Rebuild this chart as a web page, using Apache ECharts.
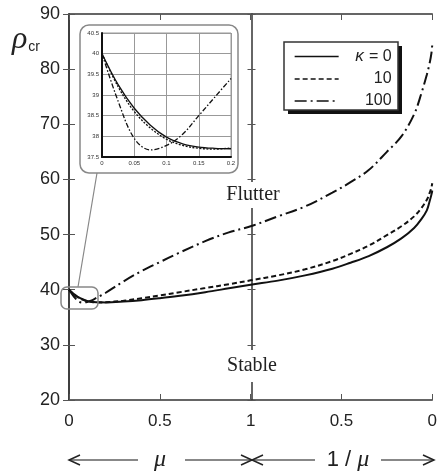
<!DOCTYPE html>
<html>
<head>
<meta charset="utf-8">
<script src="https://cdn.jsdelivr.net/npm/echarts@6/dist/echarts.min.js"></script>
<style>
  body { margin: 0; background: #fff; }
  #main { width: 440px; height: 475px; }
</style>
</head>
<body>
<div id="main"></div>
<script>
// left half: mu from 0 to 1
var mu = [0, 0.025, 0.05, 0.075, 0.1, 0.125, 0.15, 0.175, 0.2, 0.3, 0.4, 0.5, 0.6, 0.75, 0.88, 1.0];
var k0Left = [40.0, 39.25, 38.68, 38.27, 37.98, 37.82, 37.74, 37.71, 37.70, 37.85, 38.1, 38.45, 38.85, 39.55, 40.25, 40.9];
var k10Left = [40.0, 39.2, 38.6, 38.2, 37.93, 37.78, 37.71, 37.69, 37.72, 38.0, 38.45, 38.95, 39.5, 40.3, 41.0, 41.7];
var k100Left = [40.0, 38.85, 37.95, 37.67, 37.78, 38.05, 38.5, 38.95, 39.4, 41.5, 43.4, 45.0, 46.6, 48.8, 50.4, 51.5];

// right half: 1/mu from 1 down to 0
var invMu = [0.85, 0.7, 0.55, 0.45, 0.35, 0.25, 0.17, 0.1, 0.06, 0.03, 0.015, 0.005, 0];
var k0Right = [41.65, 42.6, 43.8, 44.9, 46.1, 47.7, 49.3, 51.2, 52.8, 54.4, 56.0, 57.2, 58.0];
var k10Right = [42.6, 43.7, 45.2, 46.5, 48.0, 49.9, 51.5, 53.3, 54.8, 56.3, 57.5, 58.5, 59.3];
var k100Right = [53.3, 55.1, 57.6, 59.5, 61.7, 65.0, 67.8, 71.8, 75.6, 79.0, 81.0, 82.8, 84.5];

var names = ['κ = 0', '10', '100'];
var xTicks = [0, 0.5, 1, 0.5, 0];

// x runs 0..2 : mu on the left half, 2 - 1/mu on the right half
function build(left, right) {
    var d = [];
    for (var i = 0; i < mu.length; i++) d.push([mu[i], left[i]]);
    for (var j = 0; j < invMu.length; j++) d.push([2 - invMu[j], right[j]]);
    return d;
}
function zoomPart(left) {
    var d = [];
    for (var i = 0; i < mu.length; i++) {
        if (mu[i] <= 0.2) d.push([mu[i], left[i]]);
    }
    return d;
}

var dashes = ['solid', [5, 3], [12, 4, 2, 4]];
var insetDashes = ['solid', [2, 1.5], [5, 2, 1.5, 2]];
var lefts = [k0Left, k10Left, k100Left];
var rights = [k0Right, k10Right, k100Right];

var series = [];
for (var s = 0; s < 3; s++) {
    series.push({
        name: names[s], type: 'line', xAxisIndex: 0, yAxisIndex: 0,
        data: build(lefts[s], rights[s]),
        symbol: 'none', smooth: 0.35,
        itemStyle: { color: '#111' },
        lineStyle: { color: '#111', width: 2, type: dashes[s] },
        z: 5
    });
}
for (var s2 = 0; s2 < 3; s2++) {
    series.push({
        name: names[s2], type: 'line', xAxisIndex: 2, yAxisIndex: 4,
        data: zoomPart(lefts[s2]),
        symbol: 'none', smooth: 0.35,
        itemStyle: { color: '#111' },
        lineStyle: { color: '#111', width: 1.3, type: insetDashes[s2] },
        z: 5
    });
}

var axisCol = '#333';
var numFont = 'Liberation Sans';

var option = {
    animation: false,
    backgroundColor: '#fff',
    grid: [
        { left: 69, top: 14, right: 6, bottom: 75 },
        { left: 102, top: 33, width: 129, height: 124, show: true, borderColor: '#999', borderWidth: 1 }
    ],
    xAxis: [
        {
            type: 'value', gridIndex: 0, min: 0, max: 2, interval: 0.5, position: 'bottom',
            axisLine: { lineStyle: { color: axisCol, width: 1.5 } },
            axisTick: { inside: true, length: 6, lineStyle: { color: '#555' } },
            splitLine: { show: false },
            axisLabel: {
                fontSize: 17, color: '#222', fontFamily: numFont, margin: 13,
                formatter: function (v) { return String(xTicks[Math.round(v * 2)]); }
            }
        },
        {
            type: 'value', gridIndex: 0, min: 0, max: 2, interval: 0.5, position: 'top',
            axisLine: { lineStyle: { color: axisCol, width: 1.5 } },
            axisTick: { inside: true, length: 6, lineStyle: { color: '#555' } },
            splitLine: { show: false }, axisLabel: { show: false }
        },
        {
            type: 'value', gridIndex: 1, min: 0, max: 0.2, interval: 0.05,
            axisLine: { lineStyle: { color: '#111', width: 2 } },
            axisTick: { show: false },
            splitLine: { lineStyle: { color: '#999', width: 1 } },
            axisLabel: { fontSize: 6, color: '#333', fontFamily: numFont, margin: 3 }
        }
    ],
    yAxis: [
        {
            type: 'value', gridIndex: 0, min: 20, max: 90, interval: 10, position: 'left',
            axisLine: { lineStyle: { color: axisCol, width: 1.5 } },
            axisTick: { inside: true, length: 6, lineStyle: { color: '#555' } },
            splitLine: { show: false },
            axisLabel: { fontSize: 18, color: '#222', fontFamily: numFont, margin: 9 }
        },
        {
            type: 'value', gridIndex: 0, min: 20, max: 90, interval: 10, position: 'right',
            axisLine: { lineStyle: { color: axisCol, width: 1.5 } },
            axisTick: { inside: true, length: 6, lineStyle: { color: '#555' } },
            splitLine: { show: false }, axisLabel: { show: false }
        },
        {
            // middle divider at mu = 1, ticks to the right
            type: 'value', gridIndex: 0, min: 20, max: 90, interval: 10, position: 'left', offset: -182.5,
            axisLine: { lineStyle: { color: axisCol, width: 1.5 } },
            axisTick: { inside: true, length: 4, lineStyle: { color: '#555' } },
            splitLine: { show: false }, axisLabel: { show: false }
        },
        {
            // same divider, ticks to the left
            type: 'value', gridIndex: 0, min: 20, max: 90, interval: 10, position: 'left', offset: -182.5,
            axisLine: { show: false },
            axisTick: { inside: false, length: 4, lineStyle: { color: '#555' } },
            splitLine: { show: false }, axisLabel: { show: false }
        },
        {
            type: 'value', gridIndex: 1, min: 37.5, max: 40.5, interval: 0.5,
            axisLine: { show: true, lineStyle: { color: '#111', width: 2 } },
            axisTick: { show: false },
            splitLine: { lineStyle: { color: '#999', width: 1 } },
            axisLabel: { fontSize: 6, color: '#333', fontFamily: numFont, margin: 3 }
        }
    ],
    legend: {
        data: names, orient: 'vertical', left: 294, top: 48,
        itemWidth: 44, itemHeight: 14, itemGap: 6, padding: 0,
        selectedMode: false,
        itemStyle: { opacity: 0 },
        lineStyle: { width: 1.3, color: '#111' },
        textStyle: {
            fontSize: 16, color: '#222', fontFamily: numFont,
            rich: {
                k: { fontSize: 17, fontStyle: 'italic', fontFamily: numFont, color: '#222', width: 20, align: 'right' },
                b: { fontSize: 16, fontFamily: numFont, color: '#222', width: 28, align: 'right' },
                a: { fontSize: 16, fontFamily: numFont, color: '#222', width: 48, align: 'right' }
            }
        },
        formatter: function (n) {
            if (n === names[0]) return '{k|κ}{b|= 0}';
            return '{a|' + n + '}';
        },
        z: 6
    },
    graphic: [
        // legend frame with hard shadow
        { type: 'rect', shape: { x: 288, y: 46, width: 114, height: 68 }, style: { fill: '#111' }, z: 3 },
        { type: 'rect', shape: { x: 284, y: 42, width: 114, height: 68 }, style: { fill: '#fff', stroke: '#333', lineWidth: 1.5 }, z: 3 },
        // inset frame, small zoom box and connecting line
        { type: 'rect', shape: { x: 80, y: 25, width: 158, height: 148, r: 9 }, style: { fill: 'none', stroke: '#888', lineWidth: 1.5 }, z: 3 },
        { type: 'rect', shape: { x: 61, y: 287, width: 37, height: 22, r: 6 }, style: { fill: 'none', stroke: '#888', lineWidth: 1.5 }, z: 6 },
        { type: 'line', shape: { x1: 97, y1: 173, x2: 78, y2: 287 }, style: { stroke: '#888', lineWidth: 1.2 }, z: 3 },
        // axis title
        {
            type: 'text', left: 12, top: 24, z: 6,
            style: {
                text: '{r|ρ}{s|cr}',
                rich: {
                    r: { fontSize: 32, fontStyle: 'italic', fontFamily: 'Liberation Serif', fill: '#222' },
                    s: { fontSize: 14, fontFamily: 'Liberation Sans', fill: '#222', padding: [14, 0, 0, 1] }
                }
            }
        },
        // region labels
        {
            type: 'text', x: 253, y: 195, z: 10,
            style: { text: 'Flutter', fontSize: 20, fontFamily: 'Liberation Serif', fill: '#222', align: 'center', verticalAlign: 'middle', backgroundColor: '#fff', padding: [3, 3] }
        },
        {
            type: 'text', x: 252, y: 366, z: 10,
            style: { text: 'Stable', fontSize: 20, fontFamily: 'Liberation Serif', fill: '#222', align: 'center', verticalAlign: 'middle', backgroundColor: '#fff', padding: [6, 3] }
        },
        // bottom arrows
        { type: 'line', shape: { x1: 69, y1: 460, x2: 138, y2: 460 }, style: { stroke: '#888', lineWidth: 2 } },
        { type: 'polyline', shape: { points: [[80, 455], [69, 460], [80, 465]] }, style: { stroke: '#222', lineWidth: 1.5, fill: 'none' } },
        { type: 'text', x: 160, y: 460, style: { text: 'μ', fontSize: 24, fontStyle: 'italic', fontFamily: 'Liberation Serif', fill: '#222', align: 'center', verticalAlign: 'middle' } },
        { type: 'line', shape: { x1: 185, y1: 460, x2: 252, y2: 460 }, style: { stroke: '#888', lineWidth: 2 } },
        { type: 'polyline', shape: { points: [[241, 455], [252, 460], [241, 465]] }, style: { stroke: '#222', lineWidth: 1.5, fill: 'none' } },
        { type: 'line', shape: { x1: 252, y1: 460, x2: 315, y2: 460 }, style: { stroke: '#888', lineWidth: 2 } },
        { type: 'polyline', shape: { points: [[263, 455], [252, 460], [263, 465]] }, style: { stroke: '#222', lineWidth: 1.5, fill: 'none' } },
        {
            type: 'text', x: 348, y: 460,
            style: {
                text: '{n|1 / }{m|μ}', align: 'center', verticalAlign: 'middle',
                rich: {
                    n: { fontSize: 22, fontFamily: 'Liberation Sans', fill: '#222' },
                    m: { fontSize: 24, fontStyle: 'italic', fontFamily: 'Liberation Serif', fill: '#222' }
                }
            }
        },
        { type: 'line', shape: { x1: 381, y1: 460, x2: 434, y2: 460 }, style: { stroke: '#888', lineWidth: 2 } },
        { type: 'polyline', shape: { points: [[423, 455], [434, 460], [423, 465]] }, style: { stroke: '#222', lineWidth: 1.5, fill: 'none' } }
    ],
    series: series
};

var chart = echarts.init(document.getElementById('main'));
chart.setOption(option);
</script>
</body>
</html>
